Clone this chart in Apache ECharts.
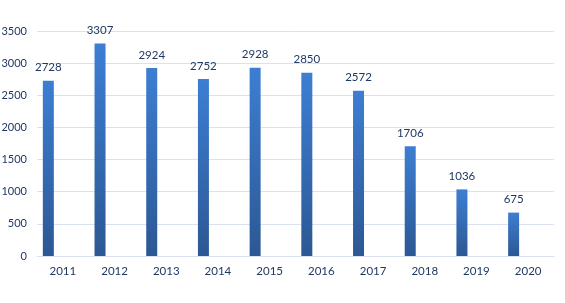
<!DOCTYPE html>
<html><head><meta charset="utf-8">
<script src="https://cdn.jsdelivr.net/npm/echarts@6/dist/echarts.min.js"></script>
<style>html,body{margin:0;padding:0;background:#fff}#c{width:565px;height:303px}</style>
</head><body><div id="c"></div>
<script>
const categories = ['2011','2012','2013','2014','2015','2016','2017','2018','2019','2020'];
const values = [2728, 3307, 2924, 2752, 2928, 2850, 2572, 1706, 1036, 675];
const yTicks = [0, 500, 1000, 1500, 2000, 2500, 3000, 3500];

const txt = '#1F3864';
const font = 'Lato';
const chart = echarts.init(document.getElementById('c'), null, {renderer:'canvas'});
chart.setOption({
  animation: false,
  grid: {left: 37, right: 11, top: 31, bottom: 47, containLabel: false, outerBoundsMode: 'none'},
  xAxis: {
    type: 'category', data: categories,
    axisLine: {lineStyle: {color: '#D9E1F2'}},
    axisTick: {show: false},
    axisLabel: {color: txt, fontSize: 11.5, fontFamily: font, margin: 9}
  },
  yAxis: {
    type: 'value', min: yTicks[0], max: yTicks[yTicks.length-1], interval: 500,
    axisLine: {show: false}, axisTick: {show: false},
    splitLine: {lineStyle: {color: '#D9E1F2'}},
    axisLabel: {color: txt, fontSize: 11, fontFamily: font, margin: 10, formatter: v => String(v)}
  },
  series: [{
    type: 'bar', data: values, barWidth: 11, barGap: '164%',
    itemStyle: {color: new echarts.graphic.LinearGradient(0,0,0,1,[{offset:0,color:'#3D7ED3'},{offset:1,color:'#2C5894'}])},
    label: {show: true, position: 'top', distance: 7, color: txt, fontSize: 11.5, fontFamily: font}
  },{
    type: 'bar', data: categories.map(()=>null), barWidth: 11
  }]
});
</script></body></html>
